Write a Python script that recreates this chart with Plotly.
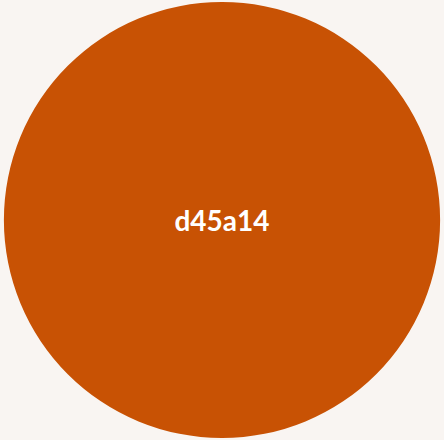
import plotly.graph_objects as go

labels = ["d45a14"]
values = [1]
colors = ["#c85204"]

fig = go.Figure(go.Pie(
    labels=labels,
    values=values,
    marker=dict(colors=colors, line=dict(width=0)),
    textinfo="label",
    textposition="inside",
    insidetextorientation="horizontal",
    textfont=dict(family="Lato, sans-serif", size=28, color="white", weight="bold"),
    hoverinfo="label",
    sort=False,
    showlegend=False,
))
fig.update_layout(
    width=444, height=440,
    margin=dict(l=2, r=2, t=2, b=2),
    paper_bgcolor="#f9f5f2",
    plot_bgcolor="#f9f5f2",
)
fig.write_html(
    "out.html",
    config={"displayModeBar": False},
    post_script="document.body.style.margin='0';document.body.style.background='#f9f5f2';",
)
